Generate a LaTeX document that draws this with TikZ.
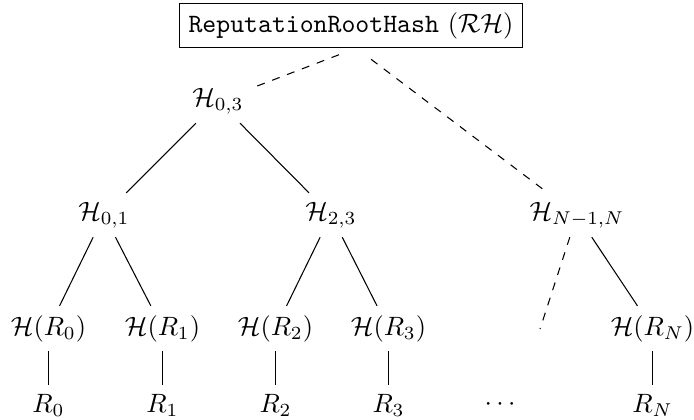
\documentclass[tikz,border=0pt]{standalone}
\begin{document}
\begin{tikzpicture}[x=0.3774pt,y=-0.3774pt,
  tnode/.style={inner sep=3.33pt},
  rootbox/.style={draw=black, line width=0.4pt, inner sep=3.33pt},
  conn/.style={draw=black, line width=0.4pt},
  dconn/.style={conn, dashed}]
\useasboundingbox (0,0) rectangle (694,419);
% nodes
\node[rootbox] (root) at (351,25.5) {\texttt{ReputationRootHash} ($\mathcal{RH}$)};
\node[tnode] (h03) at (218,101) {$\mathcal{H}_{0,3}$};
\node[tnode] (h01) at (104,215) {$\mathcal{H}_{0,1}$};
\node[tnode] (h23) at (331,215) {$\mathcal{H}_{2,3}$};
\node[tnode] (hn) at (577,215) {$\mathcal{H}_{N-1,N}$};
\node[tnode] (hr0) at (48.5,328.5) {$\mathcal{H}(R_0)$};
\node[tnode] (hr1) at (162.5,328.5) {$\mathcal{H}(R_1)$};
\node[tnode] (hr2) at (275.5,328.5) {$\mathcal{H}(R_2)$};
\node[tnode] (hr3) at (388.5,328.5) {$\mathcal{H}(R_3)$};
\coordinate (he) at (540,329);
\node[tnode] (hrn) at (652.5,328.5) {$\mathcal{H}(R_N)$};
\node[tnode] (r0) at (48.5,405) {$R_0$};
\node[tnode] (r1) at (162.5,405) {$R_1$};
\node[tnode] (r2) at (275.5,405) {$R_2$};
\node[tnode] (r3) at (388.5,405) {$R_3$};
\node[tnode] (dots) at (500,405) {$\cdots$};
\node[tnode] (rn) at (652.5,405) {$R_N$};
% connectors
\draw[dconn, shorten <=7pt] ([xshift=2pt]root.south) -- (h03);
\draw[dconn, shorten <=7pt] ([xshift=2pt]root.south) -- (hn);
\draw[conn] (h03) -- (h01);
\draw[conn] (h03) -- (h23);
\draw[conn] (h01) -- (hr0);
\draw[conn] (h01) -- (hr1);
\draw[conn] (h23) -- (hr2);
\draw[conn] (h23) -- (hr3);
\draw[dconn] (hn) -- (he);
\draw[conn] (hn) -- (hrn);
\draw[conn] (hr0) -- (r0);
\draw[conn] (hr1) -- (r1);
\draw[conn] (hr2) -- (r2);
\draw[conn] (hr3) -- (r3);
\draw[conn] (hrn) -- (rn);
\end{tikzpicture}
\end{document}
